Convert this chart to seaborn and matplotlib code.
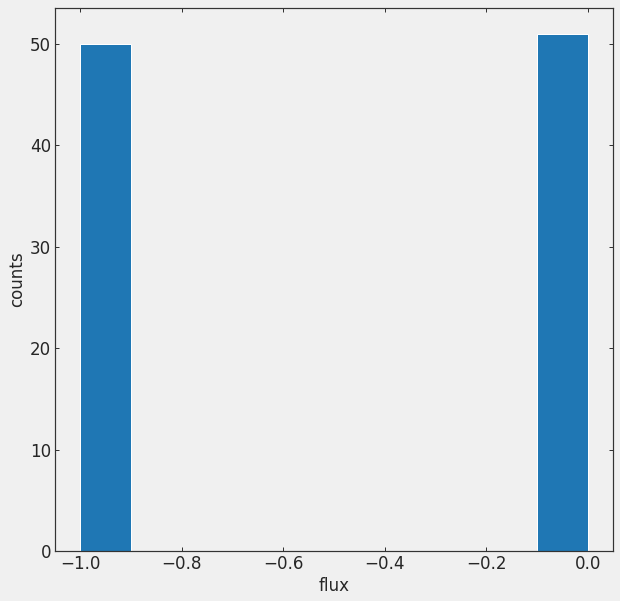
import numpy as np
import pandas as pd
import matplotlib
matplotlib.use('Agg')
import matplotlib.pyplot as plt
import seaborn as sns

# histogram data (10 bins between -1 and 0)
bin_edges = [-1.0, -0.9, -0.8, -0.7, -0.6, -0.5, -0.4, -0.3, -0.2, -0.1, 0.0]
bin_centers = [-0.95, -0.85, -0.75, -0.65, -0.55, -0.45, -0.35, -0.25, -0.15, -0.05]
counts = [50, 0, 0, 0, 0, 0, 0, 0, 0, 51]
x_ticks = [-1.0, -0.8, -0.6, -0.4, -0.2, 0.0]
y_ticks = [0, 10, 20, 30, 40, 50]

bg = '#f0f0f0'
sns.set_style('ticks')
plt.rcParams['font.family'] = ['DejaVu Sans']
plt.rcParams['xtick.direction'] = 'in'
plt.rcParams['ytick.direction'] = 'in'

df = pd.DataFrame({'flux': bin_centers, 'counts': counts})

fig = plt.figure(figsize=(620 / 72, 601 / 72), dpi=72, facecolor=bg)
ax = fig.add_axes([55 / 620, 1 - 551 / 601, 558 / 620, 543 / 601])
ax.set_facecolor(bg)

sns.histplot(data=df, x='flux', weights='counts', bins=bin_edges, ax=ax,
             color='#1f77b4', alpha=1, edgecolor='white', linewidth=1)

fs = 16.7
ax.set_xticks(x_ticks)
ax.set_yticks(y_ticks)
ax.set_xlim(-1.05, 0.05)
ax.set_ylim(0, 51 * 1.05)
ax.set_xlabel('flux', fontsize=fs, color='#262626', labelpad=4)
ax.set_ylabel('counts', fontsize=fs, color='#262626', labelpad=4)
ax.tick_params(axis='both', which='both', direction='in', top=True, right=True,
               labelsize=fs, length=4, width=1, pad=4, colors='#333333',
               labelcolor='#262626')
for s in ax.spines.values():
    s.set_visible(True)
    s.set_color('#333333')
    s.set_linewidth(1.2)

fig.savefig('out.png', dpi=72, facecolor=bg)
